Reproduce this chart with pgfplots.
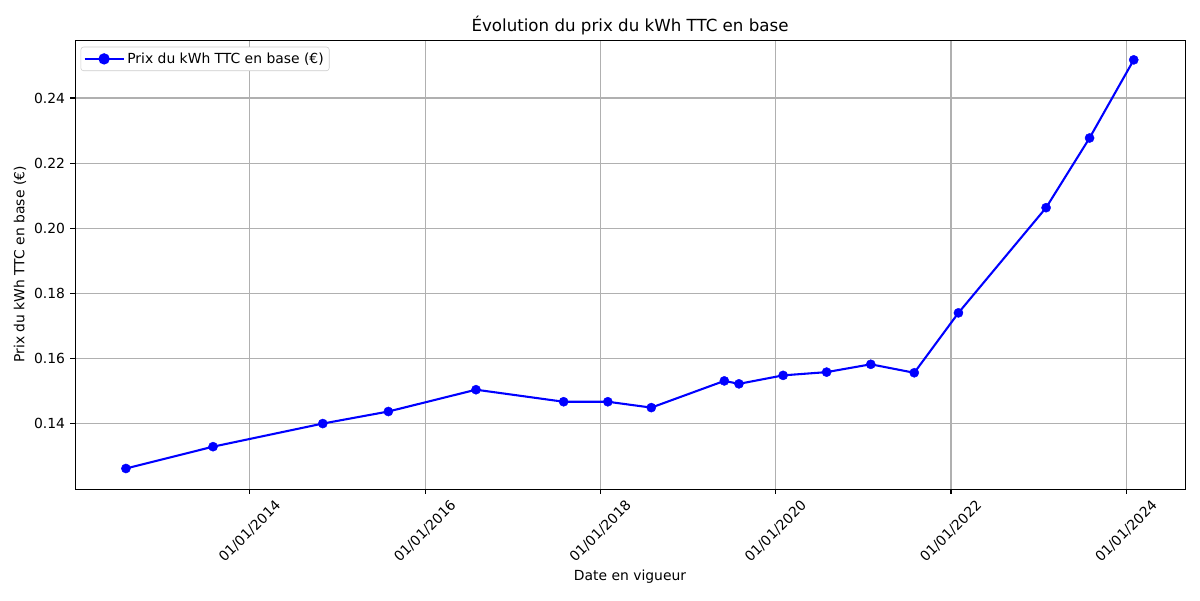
\documentclass[border=0pt]{standalone}
\usepackage{pgfplots}
\pgfplotsset{compat=1.18}
\usepackage{fontspec}
\setmainfont{DejaVu Sans}
\begin{document}
\begin{tikzpicture}[x=1pt,y=1pt]
\useasboundingbox (-54pt,-79.92pt) rectangle (810pt,352.08pt);
\begin{axis}[
  at={(0pt,0pt)}, anchor=south west,
  scale only axis, width=799.2pt, height=323.28pt,
  xmin=2012.006, xmax=2024.67, ymin=0.1199, ymax=0.2578,
  xtick={2014.0,2016.0,2018.0,2020.0,2022.0,2024.0},
  xticklabels={01/01/2014,01/01/2016,01/01/2018,01/01/2020,01/01/2022,01/01/2024},
  ytick={0.14,0.16,0.18,0.20,0.22,0.24},
  yticklabels={0.14,0.16,0.18,0.20,0.22,0.24},
  tick align=outside, major tick length=3.5pt,
  tick style={black, line width=0.8pt},
  xtick pos=bottom, ytick pos=left,
  axis line style={black, line width=0.6pt},
  grid=major, major grid style={color=black!31, line width=0.8pt},
  font=\fontsize{10pt}{12pt}\selectfont,
  xticklabel style={anchor=center, yshift=-27pt, rotate=45, inner sep=0pt},
  yticklabel style={anchor=east, inner sep=0pt, xshift=-3.5pt},
  xlabel={Date en vigueur},
  ylabel={Prix du kWh TTC en base (€)},
  xlabel style={at={(0.5,0)}, anchor=base, yshift=-66pt, inner sep=0pt},
  ylabel style={at={(0,0.5)}, anchor=center, yshift=39.6pt, inner sep=0pt},
  title={Évolution du prix du kWh TTC en base},
  title style={at={(0.5,1)}, anchor=base, yshift=0pt, inner sep=0pt, font=\fontsize{12pt}{14pt}\selectfont},
  legend style={draw=black!20, rounded corners=2pt, inner sep=2pt, at={(0.005,0.985)}, anchor=north west, font=\fontsize{10pt}{12pt}\selectfont, row sep=0pt},
  legend cell align=left,
  legend image code/.code={\draw[#1] (0pt,0pt) -- (28pt,0pt); \fill[blue] (14pt,0pt) circle (3.3pt);},
]
\addplot[color=blue, line width=1.5pt, mark=*, mark size=3.3pt, mark options={solid, fill=blue, draw=blue, line width=0.3pt}] coordinates {
(2012.587,0.1262)
(2013.581,0.1329)
(2014.833,0.1400)
(2015.581,0.1437)
(2016.581,0.1504)
(2017.581,0.1467)
(2018.085,0.1467)
(2018.581,0.1449)
(2019.414,0.1531)
(2019.581,0.1522)
(2020.085,0.1548)
(2020.581,0.1558)
(2021.085,0.1582)
(2021.581,0.1556)
(2022.085,0.1740)
(2023.085,0.2063)
(2023.581,0.2277)
(2024.085,0.2517)
};
\addlegendentry{Prix du kWh TTC en base (€)}
\end{axis}
\end{tikzpicture}
\end{document}
